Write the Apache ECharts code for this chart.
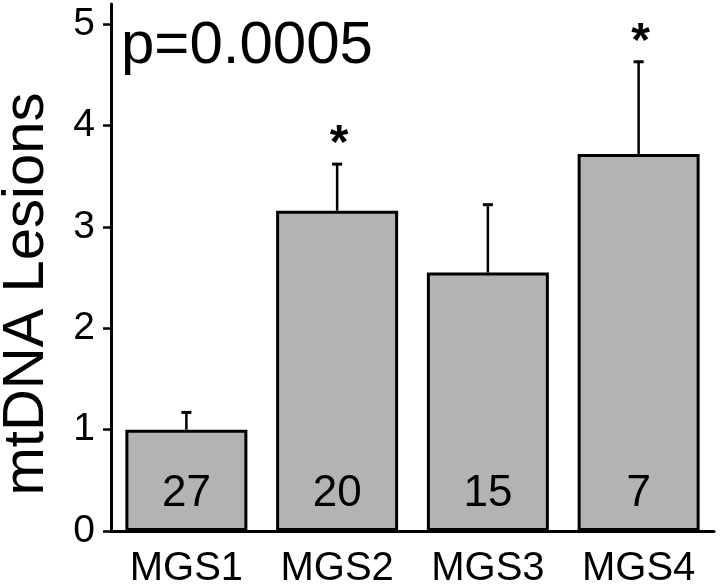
<!DOCTYPE html>
<html>
<head>
<meta charset="utf-8">
<script src="https://cdn.jsdelivr.net/npm/echarts@6/dist/echarts.min.js"></script>
<style>
  html, body { margin: 0; padding: 0; background: #fff; }
  #chart { width: 720px; height: 587px; }
</style>
</head>
<body>
<div id="chart"></div>
<script>
const categories = ["MGS1", "MGS2", "MGS3", "MGS4"];
const means = [1.0, 3.16, 2.55, 3.72];
const upperErrors = [0.17, 0.46, 0.67, 0.91];
const counts = [27, 20, 15, 7];
const stars = ["", "*", "", "*"];
const yTicks = [0, 1, 2, 3, 4, 5];

const font = "'Liberation Sans', Arial, sans-serif";
const chart = echarts.init(document.getElementById("chart"));

const option = {
  animation: false,
  backgroundColor: "#fff",
  grid: { left: 111, right: 6, top: 4, bottom: 56, outerBoundsMode: "none", containLabel: false },
  graphic: [
    {
      type: "text",
      x: 27,
      y: 294,
      rotation: Math.PI / 2,
      style: {
        text: "mtDNA Lesions",
        font: "58px " + font,
        fill: "#000",
        textAlign: "center",
        textVerticalAlign: "middle",
      },
    },
    {
      type: "text",
      x: 121,
      y: 46,
      style: {
        text: "p=0.0005",
        font: "60px " + font,
        fill: "#000",
        textAlign: "left",
        textVerticalAlign: "middle",
      },
    },
  ],
  xAxis: [
    {
      type: "category",
      data: categories,
      axisLine: { lineStyle: { color: "#000", width: 3 } },
      axisTick: { alignWithLabel: true, length: 10, lineStyle: { color: "#000", width: 2.5 } },
      axisLabel: { color: "#000", fontSize: 40, fontFamily: font, margin: 18 },
    },
    {
      type: "category",
      data: categories,
      position: "bottom",
      axisLine: { show: false },
      axisTick: { length: 4, lineStyle: { color: "#000", width: 2.5 } },
      axisLabel: { show: false },
    },
  ],
  yAxis: {
    type: "value",
    min: 0,
    max: 5.2,
    splitLine: { show: false },
    axisLine: { show: true, lineStyle: { color: "#000", width: 3 } },
    axisTick: { show: true, length: 8, customValues: yTicks, lineStyle: { color: "#000", width: 2.5 } },
    axisLabel: { color: "#000", fontSize: 39, fontFamily: font, margin: 16, customValues: yTicks },
  },
  series: [
    {
      type: "bar",
      data: means,
      barWidth: 122,
      itemStyle: { color: "#b3b3b3", borderColor: "#000", borderWidth: 3 },
      label: {
        show: true,
        position: "insideBottom",
        distance: 15,
        color: "#000",
        fontSize: 44,
        fontFamily: font,
        formatter: (p) => String(counts[p.dataIndex]),
      },
    },
    {
      type: "custom",
      z: 5,
      data: means.map((m, i) => [i, m, m + upperErrors[i]]),
      renderItem: function (params, api) {
        const i = api.value(0);
        const base = api.coord([i, api.value(1)]);
        const top = api.coord([i, api.value(2)]);
        const children = [
          {
            type: "line",
            shape: { x1: base[0], y1: base[1], x2: top[0], y2: top[1] },
            style: { stroke: "#000", lineWidth: 2.5 },
          },
          {
            type: "line",
            shape: { x1: top[0] - 5, y1: top[1], x2: top[0] + 5, y2: top[1] },
            style: { stroke: "#000", lineWidth: 3 },
          },
        ];
        if (stars[params.dataIndex]) {
          children.push({
            type: "text",
            x: top[0] + 2,
            y: top[1] - 19,
            style: {
              text: stars[params.dataIndex],
              font: "bold 48px " + font,
              fill: "#000",
              textAlign: "center",
              textVerticalAlign: "middle",
            },
          });
        }
        return { type: "group", children: children };
      },
    },
  ],
};

chart.setOption(option);
</script>
</body>
</html>
